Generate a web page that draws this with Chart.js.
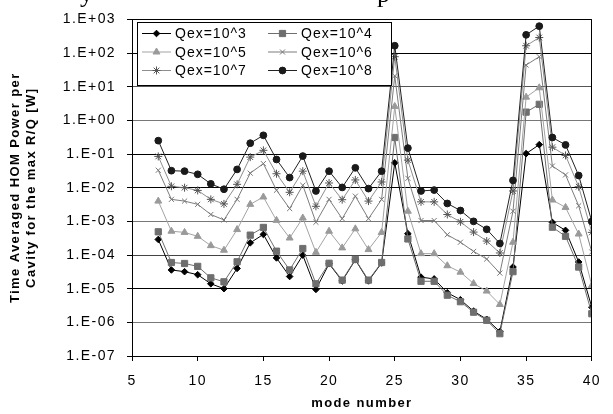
<!DOCTYPE html>
<html>
<head>
<meta charset="utf-8">
<script src="https://cdn.jsdelivr.net/npm/chart.js@4/dist/chart.umd.min.js"></script>
<style>
  html, body { margin: 0; padding: 0; background: #fff; }
  #c { display: block; }
</style>
</head>
<body>
<canvas id="c" width="613" height="414" style="width:613px;height:414px"></canvas>
<script>
// ---- data ----
const modes = [7,8,9,10,11,12,13,14,15,16,17,18,19,20,21,22,23,24,25,26,27,28,29,30,31,32,33,34,35,36,37,38,39,40];
const seriesLabels = ['Qex=10^3','Qex=10^4','Qex=10^5','Qex=10^6','Qex=10^7','Qex=10^8'];
const q1e3 = [2.9e-4,3.6e-5,3.2e-5,2.6e-5,1.4e-5,1.0e-5,4.0e-5,2.3e-4,4.1e-4,8.2e-5,2.3e-5,9.9e-5,9.5e-6,5.5e-5,1.7e-5,7.2e-5,1.7e-5,5.8e-5,0.055,4.3e-4,2.2e-5,1.95e-5,7.6e-6,4.7e-6,2.15e-6,1.23e-6,5.3e-7,4.4e-5,0.103,0.19,9.3e-4,5.4e-4,6.2e-5,2.8e-6];
const q1e4 = [4.9e-4,6.0e-5,5.6e-5,4.6e-5,2.1e-5,1.6e-5,6.3e-5,3.9e-4,6.6e-4,1.3e-4,3.6e-5,1.56e-4,1.4e-5,5.7e-5,1.8e-5,7.4e-5,1.8e-5,6.0e-5,0.31,3.0e-4,1.66e-5,1.66e-5,6.4e-6,4.1e-6,2.0e-6,1.15e-6,4.6e-7,3.2e-5,1.76,3.0,6.7e-4,3.6e-4,4.4e-5,1.8e-6];
const q1e5 = [4.0e-3,5.1e-4,4.7e-4,3.6e-4,1.9e-4,1.39e-4,5.7e-4,3.2e-3,5.3e-3,1.07e-3,3.2e-4,1.26e-3,1.2e-4,5.1e-4,1.63e-4,6.0e-4,1.45e-4,4.7e-4,2.6,2.0e-3,1.1e-4,1.1e-4,4.8e-5,3.1e-5,1.42e-5,8.5e-6,3.4e-6,2.4e-4,4.9,9.3,4.3e-3,2.6e-3,4.2e-4,1.24e-5];
const q1e6 = [0.033,4.5e-3,4.0e-3,3.2e-3,1.6e-3,1.1e-3,4.5e-3,0.027,0.052,8.4e-3,2.4e-3,0.0118,9.4e-4,4.5e-3,1.2e-3,5.6e-3,1.2e-3,4.5e-3,21,0.019,1.06e-3,1.06e-3,4.0e-4,2.4e-4,1.28e-4,7.6e-5,2.9e-5,2.0e-3,44,78,0.044,0.024,2.9e-3,1.23e-4];
const q1e7 = [0.085,0.011,0.010,8.3e-3,4.5e-3,3.3e-3,0.0126,0.081,0.129,0.026,7.3e-3,0.031,2.8e-3,0.0138,4.4e-3,0.017,4.0e-3,0.0148,78,0.066,3.8e-3,3.8e-3,1.6e-3,9.7e-4,4.8e-4,2.6e-4,1.15e-4,8.0e-3,165,290,0.16,0.091,0.0107,4.7e-4];
const q1e8 = [0.25,0.032,0.031,0.025,0.013,0.009,0.035,0.21,0.36,0.069,0.020,0.087,0.008,0.031,0.0102,0.039,0.0094,0.031,165,0.15,8.0e-3,8.5e-3,3.4e-3,2.1e-3,1.0e-3,5.8e-4,2.2e-4,0.0165,348,630,0.31,0.187,0.023,9.9e-4];
const yTickValues = [1e-7,1e-6,1e-5,1e-4,1e-3,1e-2,1e-1,1e0,1e1,1e2,1e3];
const yTickLabels = ['1.E-07','1.E-06','1.E-05','1.E-04','1.E-03','1.E-02','1.E-01','1.E+00','1.E+01','1.E+02','1.E+03'];
const xTickValues = [5,10,15,20,25,30,35,40];
const yTitle = ['Time Averaged HOM Power per','Cavity for the max R/Q [W]'];
const xTitle = 'mode number';

// ---- styles ----
const FONT = '"Liberation Sans", Arial, sans-serif';
const styles = [
  {line:'#000000', fill:'#000000', border:'#000000', shape:'rectRot', r:3.3},
  {line:'#6e6e6e', fill:'#6e6e6e', border:'#6e6e6e', shape:'rect', r:4.4},
  {line:'#a3a3a3', fill:'#9a9a9a', border:'#9a9a9a', shape:'triangle', r:4},
  {line:'#7c7c7c', fill:'#777777', border:'#777777', shape:'crossRot', r:3.6},
  {line:'#8e8e8e', fill:'#555555', border:'#555555', shape:'star', r:4},
  {line:'#222222', fill:'#1a1a1a', border:'#1a1a1a', shape:'circle', r:3.4}
];
const allSeries = [q1e3,q1e4,q1e5,q1e6,q1e7,q1e8];

const datasets = allSeries.map((vals, i) => ({
  label: seriesLabels[i],
  data: modes.map((m, k) => ({x: m, y: vals[k]})),
  borderColor: styles[i].line,
  borderWidth: 1,
  pointStyle: styles[i].shape,
  pointRadius: styles[i].r,
  pointBackgroundColor: styles[i].fill,
  pointBorderColor: styles[i].border,
  pointBorderWidth: 1,
  tension: 0,
  order: 5 - i
}));

const gridColorByExp = {'3':'#000','2':'#000','1':'#555','0':'#777','-1':'#000','-2':'#000','-3':'#777','-4':'#444','-5':'#000','-6':'#777','-7':'#000'};
const LS = '1.4px';

const spacingPlugin = {
  id: 'spacing',
  beforeLayout(chart) { chart.ctx.letterSpacing = LS; },
  beforeDraw(chart) { chart.ctx.letterSpacing = LS; }
};

const framePlugin = {
  id: 'frame',
  afterDatasetsDraw(chart) {
    const {ctx, chartArea: a} = chart;
    ctx.save();
    ctx.strokeStyle = '#000';
    ctx.lineWidth = 1;
    ctx.beginPath();
    ctx.moveTo(Math.round(a.left) + 0.5, Math.round(a.top) + 0.5);
    ctx.lineTo(Math.round(a.right) - 0.5, Math.round(a.top) + 0.5);
    ctx.lineTo(Math.round(a.right) - 0.5, Math.round(a.bottom));
    ctx.stroke();
    ctx.restore();
  },
  afterDraw(chart) {
    const ctx = chart.ctx;
    ctx.save();
    ctx.letterSpacing = '1px';
    // legend box
    ctx.fillStyle = '#fff';
    ctx.fillRect(137.5, 22.5, 254, 63);
    ctx.strokeStyle = '#000';
    ctx.lineWidth = 1;
    ctx.strokeRect(137.5, 22.5, 254, 63);
    chart.data.datasets.forEach((ds, i) => {
      const col = i % 2, row = Math.floor(i / 2);
      const x0 = col ? 268 : 142;
      const y = 33.5 + row * 18.5;
      ctx.strokeStyle = ds.borderColor;
      ctx.lineWidth = 1;
      ctx.beginPath(); ctx.moveTo(x0, y); ctx.lineTo(x0 + 29, y); ctx.stroke();
      ctx.fillStyle = ds.pointBackgroundColor;
      ctx.strokeStyle = ds.pointBorderColor;
      Chart.helpers.drawPoint(ctx, {pointStyle: ds.pointStyle, radius: ds.pointRadius, borderWidth: 1, rotation: 0}, x0 + 14.5, y);
      ctx.fillStyle = '#000';
      ctx.font = '14px ' + FONT;
      ctx.textBaseline = 'middle';
      ctx.textAlign = 'left';
      ctx.fillText(ds.label, x0 + 33, y + 1);
    });
    // cut-off title fragments at the top edge
    ctx.letterSpacing = '0px';
    ctx.fillStyle = '#000';
    ctx.font = '26px "Liberation Serif", "Times New Roman", serif';
    ctx.textBaseline = 'alphabetic';
    ctx.fillText('y', 80, 2);
    ctx.fillText('p', 377, 2);
    ctx.restore();
  }
};

new Chart(document.getElementById('c'), {
  type: 'line',
  data: { datasets },
  options: {
    responsive: false,
    animation: false,
    devicePixelRatio: 1,
    layout: { padding: {top: 19, right: 10, left: 0, bottom: 0} },
    plugins: { legend: {display: false}, tooltip: {enabled: false}, title: {display: false} },
    scales: {
      x: {
        type: 'linear',
        min: 5, max: 40,
        afterFit(s) { s.height = 58; },
        afterBuildTicks(s) { s.ticks = xTickValues.map(v => ({value: v})); },
        grid: { drawOnChartArea: false, drawTicks: true, tickLength: 5, color: '#000', tickColor: '#000' },
        border: { color: '#000', width: 1 },
        ticks: { color: '#000', font: {family: FONT, size: 14}, padding: 12, maxRotation: 0 },
        title: { display: true, text: xTitle, color: '#000', font: {family: FONT, size: 13, weight: 'bold'}, padding: {top: 0, bottom: 3} }
      },
      y: {
        type: 'logarithmic',
        min: 1e-7, max: 1e3,
        afterFit(s) { s.width = 132; },
        afterBuildTicks(s) { s.ticks = yTickValues.map(v => ({value: v})); },
        grid: {
          color: (c) => { const e = c.tick ? Math.round(Math.log10(c.tick.value)) : 0; return gridColorByExp[String(e)] || '#555'; },
          tickColor: '#000', tickLength: 5, lineWidth: 1
        },
        border: { color: '#000', width: 1 },
        ticks: {
          color: '#000', font: {family: FONT, size: 14}, padding: 11,
          callback: (v) => { const k = yTickValues.findIndex(t => Math.abs(Math.log10(t) - Math.log10(v)) < 1e-6); return k >= 0 ? yTickLabels[k] : ''; }
        },
        title: { display: true, text: yTitle, color: '#000', font: {family: FONT, size: 13, weight: 'bold'}, padding: {top: 8, bottom: 0} }
      }
    }
  },
  plugins: [spacingPlugin, framePlugin]
});
</script>
</body>
</html>
